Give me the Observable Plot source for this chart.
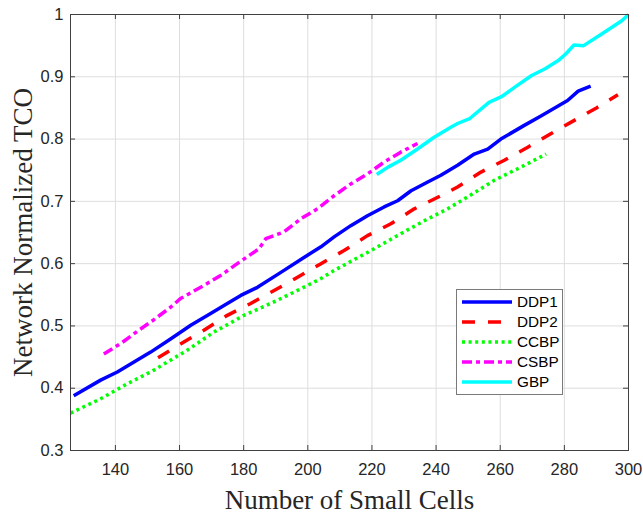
<!DOCTYPE html>
<html>
<head>
<meta charset="utf-8">
<script src="https://cdn.jsdelivr.net/npm/d3@7"></script>
<script src="https://cdn.jsdelivr.net/npm/@observablehq/plot@0.6"></script>
<style>
  html, body { margin: 0; padding: 0; background: #fff; }
  #wrap { position: relative; width: 643px; height: 513px; }
  #wrap svg { font-family: "Liberation Sans", Arial, sans-serif; }
  g[aria-label="x-axis label"] text, g[aria-label="y-axis label"] text {
    font-family: "Liberation Serif", "Times New Roman", serif; font-size: 27px; fill: #262626;
  }
  g[aria-label="x-axis tick label"] text, g[aria-label="y-axis tick label"] text {
    font-size: 16.5px; fill: #262626;
  }
  #legend {
    position: absolute; left: 456px; top: 289px; width: 107px; height: 106px;
    box-sizing: border-box; border: 1px solid #7a7a7a; background: #fff;
    font-family: "Liberation Sans", Arial, sans-serif; font-size: 15.3px; color: #000;
  }
  #legend .row { position: absolute; left: 0; height: 20px; width: 100%; }
  #legend svg { position: absolute; left: 4px; top: 0; }
  #legend span { position: absolute; left: 60px; top: 1px; line-height: 18px; }
</style>
</head>
<body>
<div id="wrap"></div>
<script>
// ---- data ----
const xTicks = [140, 160, 180, 200, 220, 240, 260, 280, 300];
const yTicks = [0.3, 0.4, 0.5, 0.6, 0.7, 0.8, 0.9, 1];
const seriesNames = ["DDP1", "DDP2", "CCBP", "CSBP", "GBP"];

const ddp1X = [127, 135.4, 140.6, 145.8, 151, 157.2, 163.5, 169.7, 174.9, 179.1, 184.3, 191.6, 198.8, 204.1, 208.2, 213.4, 218.6, 223.8, 228, 232.2, 237.4, 241.5, 246.7, 251.9, 256.1, 260.2, 267.5, 272.7, 281, 284.3, 288.2];
const ddp1Y = [0.388, 0.413, 0.426, 0.442, 0.458, 0.479, 0.501, 0.520, 0.536, 0.549, 0.562, 0.586, 0.610, 0.627, 0.643, 0.661, 0.677, 0.691, 0.701, 0.717, 0.731, 0.742, 0.758, 0.776, 0.784, 0.800, 0.822, 0.837, 0.862, 0.877, 0.885];

const ddp2X = [153.3, 160.3, 167.6, 174.9, 182.2, 189.5, 196.8, 204.1, 211.3, 218.6, 225.9, 233.2, 241.5, 246.7, 254.0, 261.3, 268.6, 275.9, 283.1, 290, 296.7];
const ddp2Y = [0.449, 0.471, 0.493, 0.517, 0.536, 0.557, 0.578, 0.600, 0.621, 0.645, 0.664, 0.688, 0.709, 0.723, 0.747, 0.766, 0.787, 0.809, 0.830, 0.850, 0.871];

const ccbpX = [126, 135.4, 143.7, 152.0, 159.8, 162.4, 170.7, 180.1, 188.4, 196.8, 204.1, 208.2, 218.6, 229.0, 236, 243.6, 249.8, 258.2, 266.5, 274.3];
const ccbpY = [0.360, 0.383, 0.407, 0.429, 0.453, 0.461, 0.490, 0.517, 0.536, 0.557, 0.576, 0.589, 0.618, 0.648, 0.668, 0.688, 0.707, 0.734, 0.755, 0.776];

const csbpX = [136.4, 142, 147, 152, 157.2, 160.3, 167.6, 172.8, 178.0, 184.8, 186.9, 192.6, 197.8, 203.0, 208.2, 213.4, 218.6, 223.8, 229.0, 234.2];
const csbpY = [0.455, 0.473, 0.492, 0.510, 0.530, 0.544, 0.565, 0.581, 0.600, 0.624, 0.640, 0.651, 0.672, 0.688, 0.709, 0.728, 0.744, 0.763, 0.779, 0.793];

const gbpX = [221.5, 225, 229, 234.2, 239.4, 244.6, 246.7, 250.5, 256.5, 260.4, 265, 269.8, 274, 278.1, 280.5, 283, 286, 292, 297.9, 300];
const gbpY = [0.743, 0.755, 0.766, 0.784, 0.803, 0.819, 0.825, 0.833, 0.859, 0.868, 0.885, 0.902, 0.913, 0.926, 0.937, 0.951, 0.950, 0.970, 0.990, 1.0];

// ---- styles ----
const styles = {
  DDP1: {stroke: "#0000ff", dash: null},
  DDP2: {stroke: "#ff0000", dash: "13,13"},
  CCBP: {stroke: "#00ff00", dash: "3,3.6"},
  CSBP: {stroke: "#ff00ff", dash: "10,4,4,4"},
  GBP:  {stroke: "#00ffff", dash: null}
};
const xs = {DDP1: ddp1X, DDP2: ddp2X, CCBP: ccbpX, CSBP: csbpX, GBP: gbpX};
const ys = {DDP1: ddp1Y, DDP2: ddp2Y, CCBP: ccbpY, CSBP: csbpY, GBP: gbpY};
const series = seriesNames.map(name => ({
  name, points: xs[name].map((x, i) => ({x, y: ys[name][i]}))
}));

const W = 643, H = 513;
const mL = 70, mR = 15, mT = 14, mB = 63;
const innerH = H - mT - mB, innerW = W - mL - mR;
const tickLen = 5;
const axisColor = "#404040";

const chart = Plot.plot({
  width: W, height: H,
  marginLeft: mL, marginRight: mR, marginTop: mT, marginBottom: mB,
  style: {background: "#fff", overflow: "visible"},
  x: {domain: [126, 300]},
  y: {domain: [0.3, 1]},
  marks: [
    Plot.ruleX(xTicks, {x: d => d, stroke: "#dedede", strokeWidth: 1}),
    Plot.ruleY(yTicks, {y: d => d, stroke: "#dedede", strokeWidth: 1}),
    ...series.map(s => Plot.line(s.points, {
      x: "x", y: "y", stroke: styles[s.name].stroke, strokeWidth: 3.5,
      strokeDasharray: styles[s.name].dash, strokeLinecap: "butt", strokeLinejoin: "round"
    })),
    Plot.frame({stroke: axisColor, strokeWidth: 1}),
    // inward ticks on all four sides
    Plot.ruleX(xTicks, {x: d => d, insetTop: innerH - tickLen, stroke: axisColor}),
    Plot.ruleX(xTicks, {x: d => d, insetBottom: innerH - tickLen, stroke: axisColor}),
    Plot.ruleY(yTicks, {y: d => d, insetRight: innerW - tickLen, stroke: axisColor}),
    Plot.ruleY(yTicks, {y: d => d, insetLeft: innerW - tickLen, stroke: axisColor}),
    Plot.axisX({ticks: xTicks, tickSize: 0, tickPadding: 13, tickFormat: d => String(d),
      label: "Number of Small Cells", labelAnchor: "center", labelOffset: 58, labelArrow: "none"}),
    Plot.axisY({ticks: yTicks, tickSize: 0, tickPadding: 7, tickFormat: d => String(d),
      label: "Network Normalized TCO", labelAnchor: "center", labelOffset: 58, labelArrow: "none"})
  ]
});

const wrap = document.getElementById("wrap");
wrap.appendChild(chart);

// legend
const legend = document.createElement("div");
legend.id = "legend";
seriesNames.forEach((name, i) => {
  const row = document.createElement("div");
  row.className = "row";
  row.style.top = (2 + i * 20) + "px";
  const st = styles[name];
  row.innerHTML = `<svg width="52" height="20"><line x1="1" x2="51" y1="10" y2="10" stroke="${st.stroke}" stroke-width="3.5" ${st.dash ? `stroke-dasharray="${st.dash}"` : ""}/></svg><span>${name}</span>`;
  legend.appendChild(row);
});
wrap.appendChild(legend);
</script>
</body>
</html>
